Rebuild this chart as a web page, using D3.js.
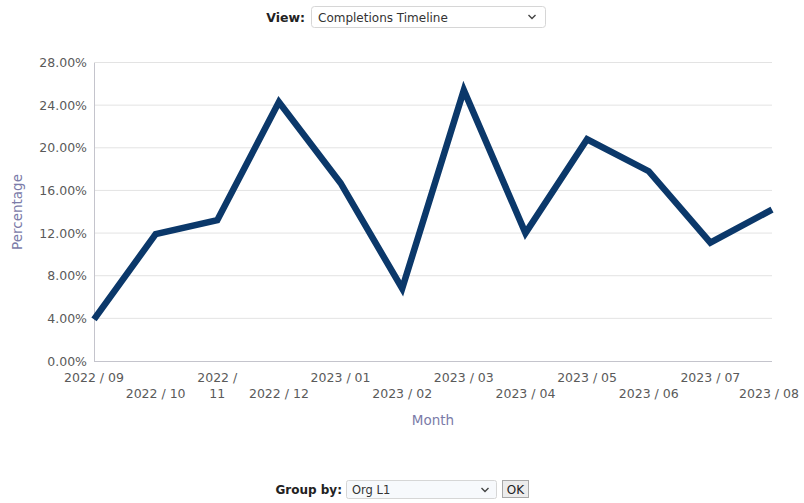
<!DOCTYPE html>
<html><head><meta charset="utf-8">
<script src="https://cdn.jsdelivr.net/npm/d3@7/dist/d3.min.js"></script>
<style>
html,body{margin:0;padding:0;background:#fff;}
svg{display:block;font-family:"DejaVu Sans",Verdana,sans-serif;}
</style></head><body>
<svg id="chart" width="804" height="503"></svg>
<script>
const months = ["2022 / 09","2022 / 10","2022 / 11","2022 / 12","2023 / 01","2023 / 02","2023 / 03","2023 / 04","2023 / 05","2023 / 06","2023 / 07","2023 / 08"];
const percentages = [3.9, 11.9, 13.2, 24.3, 16.7, 6.8, 25.4, 12.0, 20.8, 17.8, 11.1, 14.2];
const yTicks = [0, 4, 8, 12, 16, 20, 24, 28];
const viewLabel = "View:";
const viewValue = "Completions Timeline";
const groupLabel = "Group by:";
const groupValue = "Org L1";

const svg = d3.select("#chart");
const mLeft = 94, mRight = 772, mTop = 62.5, mBottom = 361;

const x = d3.scalePoint().domain(months).range([mLeft, mRight]);
const y = d3.scaleLinear().domain([0, 28]).range([mBottom, mTop]);

// gridlines
svg.append("g").selectAll("line").data(yTicks.filter(d => d > 0)).join("line")
  .attr("x1", mLeft).attr("x2", mRight)
  .attr("y1", d => y(d)).attr("y2", d => y(d))
  .attr("stroke", "#e3e3e3").attr("stroke-width", 1);

// y axis
const yAxis = d3.axisLeft(y).tickValues(yTicks).tickSize(0).tickPadding(7)
  .tickFormat(d => d.toFixed(2) + "%");
const gy = svg.append("g").attr("transform", `translate(${mLeft},0)`).call(yAxis);
gy.select(".domain").attr("stroke", "#c4c4cc");
gy.selectAll("text").attr("fill", "#5a5a5a").attr("font-size", "12.5px")
  .attr("font-family", "DejaVu Sans, sans-serif");

// x axis
const xAxis = d3.axisBottom(x).tickSize(0).tickFormat("");
const gx = svg.append("g").attr("transform", `translate(0,${mBottom})`).call(xAxis);
gx.select(".domain").attr("stroke", "#c4c4cc").attr("d", `M${mLeft},0.5H${mRight}`);

// x labels (staggered)
const lbl = svg.append("g").attr("fill", "#5a5a5a").attr("font-size", "12.5px");
months.forEach((m, i) => {
  const row = i % 2 === 0 ? 382 : 398;
  let cx = x(m);
  const t = lbl.append("text").attr("text-anchor", "middle");
  if (m === "2022 / 11") {
    t.attr("x", cx).attr("y", 382).text("2022 /");
    lbl.append("text").attr("text-anchor", "middle").attr("x", cx).attr("y", 398).text("11");
    return;
  }
  if (i === months.length - 1) cx = Math.min(cx, 769);
  t.attr("x", cx).attr("y", row).text(m);
});

// axis titles
svg.append("text").attr("x", 433).attr("y", 425).attr("text-anchor", "middle")
  .attr("fill", "#7b7ba8").attr("font-size", "13.5px").text("Month");
svg.append("text").attr("transform", "translate(22,212) rotate(-90)").attr("text-anchor", "middle")
  .attr("fill", "#7b7ba8").attr("font-size", "13.5px").text("Percentage");

// line
const line = d3.line().x((d, i) => x(months[i])).y(d => y(d));
svg.append("path").datum(percentages).attr("d", line)
  .attr("fill", "none").attr("stroke", "#0b386a").attr("stroke-width", 6.5)
  .attr("stroke-linejoin", "miter").attr("stroke-linecap", "butt");

// controls
function chevron(cx, cy) {
  svg.append("path").attr("d", `M${cx-3.5},${cy-2}L${cx},${cy+1.5}L${cx+3.5},${cy-2}`)
    .attr("fill", "none").attr("stroke", "#444").attr("stroke-width", 1.4);
}
svg.append("text").attr("x", 305).attr("y", 22).attr("text-anchor", "end")
  .attr("font-weight", "bold").attr("font-size", "12.5px").attr("fill", "#222").text(viewLabel);
svg.append("rect").attr("x", 311.5).attr("y", 6.5).attr("width", 234).attr("height", 21).attr("rx", 3)
  .attr("fill", "#fff").attr("stroke", "#d6d6d6");
svg.append("text").attr("x", 318).attr("y", 22).attr("font-size", "12px").attr("fill", "#333").text(viewValue);
chevron(532, 17);

svg.append("text").attr("x", 342).attr("y", 494).attr("text-anchor", "end")
  .attr("font-weight", "bold").attr("font-size", "12px").attr("fill", "#222").text(groupLabel);
svg.append("rect").attr("x", 346.5).attr("y", 480.5).attr("width", 150).attr("height", 18).attr("rx", 2)
  .attr("fill", "#f7f9fc").attr("stroke", "#d6d6d6");
svg.append("text").attr("x", 352).attr("y", 494).attr("font-size", "11.5px").attr("fill", "#333").text(groupValue);
chevron(485, 490);
svg.append("rect").attr("x", 502.5).attr("y", 480.5).attr("width", 26).attr("height", 17)
  .attr("fill", "#ececec").attr("stroke", "#a8a8a8");
svg.append("text").attr("x", 515.5).attr("y", 494).attr("text-anchor", "middle")
  .attr("font-size", "12px").attr("fill", "#222").text("OK");
</script>
</body></html>
